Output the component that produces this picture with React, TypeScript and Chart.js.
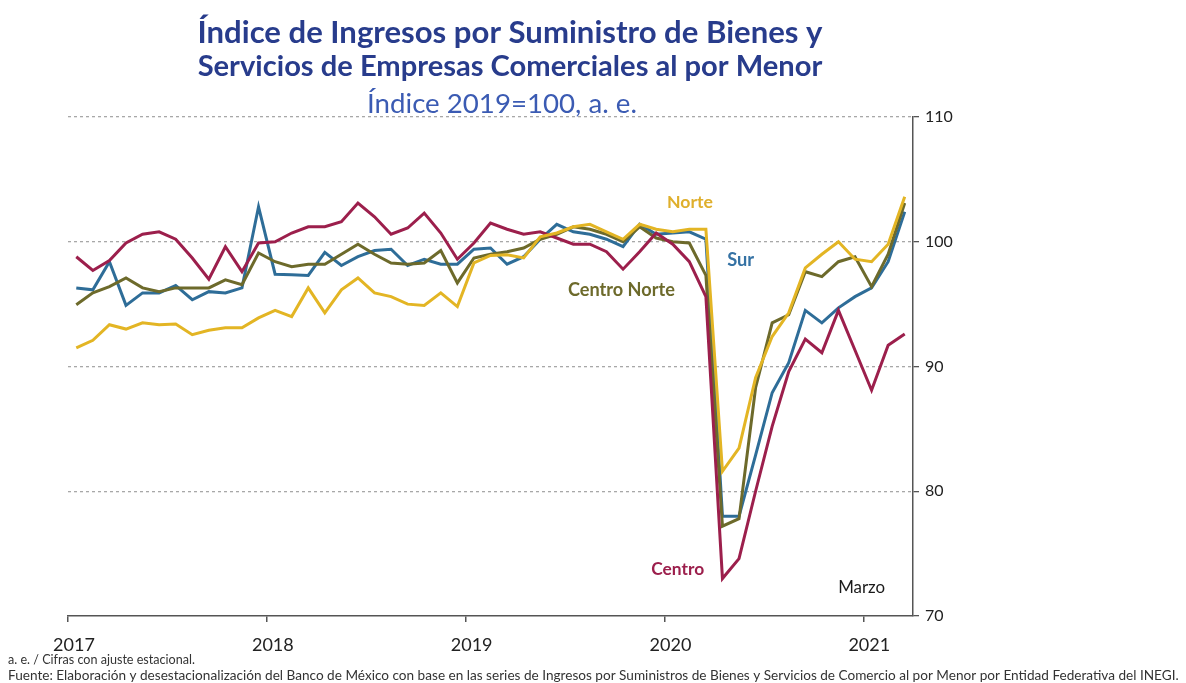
import React, { useEffect, useRef } from "react";
import { Chart, registerables } from "chart.js";

Chart.register(...registerables);

// Months Jan 2017 .. Mar 2021 (51 points)
const months: string[] = [];
["2017", "2018", "2019", "2020", "2021"].forEach((y) => {
  ["ene", "feb", "mar", "abr", "may", "jun", "jul", "ago", "sep", "oct", "nov", "dic"].forEach((m) => {
    if (months.length < 51) months.push(`${m} ${y}`);
  });
});

const yearLabels = ["2017", "2018", "2019", "2020", "2021"];
const yearTickPos = [0, 12, 24, 36, 48];
const yTicks = [70, 80, 90, 100, 110];

const norte = [
  91.5, 92.1, 93.35, 93.0, 93.5, 93.35, 93.4, 92.55, 92.9, 93.1, 93.1, 93.9,
  94.5, 94.0, 96.3, 94.3, 96.15, 97.1, 95.9, 95.6, 95.0, 94.9, 95.9, 94.8,
  98.3, 98.9, 98.96, 98.7, 100.4, 100.7, 101.2, 101.4, 100.8, 100.2, 101.4, 101.0,
  100.8, 101.0, 101.0, 81.6, 83.45, 89.1, 92.4, 94.3, 97.9, 99.0, 100.0, 98.6, 98.4, 99.8, 103.6,
];
const centro = [
  98.8, 97.7, 98.5, 99.9, 100.6, 100.8, 100.2, 98.7, 97.0, 99.6, 97.6, 99.9,
  100.0, 100.7, 101.2, 101.2, 101.6, 103.1, 102.0, 100.6, 101.1, 102.3, 100.7, 98.6,
  99.9, 101.5, 101.0, 100.6, 100.8, 100.3, 99.8, 99.8, 99.2, 97.8, 99.2, 100.7,
  99.8, 98.4, 95.6, 73.0, 74.6, 80.0, 85.2, 89.6, 92.2, 91.1, 94.5, 91.3, 88.1, 91.7, 92.6,
];
const centroNorte = [
  94.95, 95.9, 96.4, 97.1, 96.3, 96.0, 96.3, 96.3, 96.3, 96.95, 96.55, 99.1,
  98.4, 98.0, 98.2, 98.2, 99.0, 99.8, 99.0, 98.3, 98.2, 98.3, 99.3, 96.7,
  98.7, 99.0, 99.2, 99.5, 100.2, 100.6, 101.2, 101.0, 100.6, 100.0, 101.2, 100.3,
  100.0, 99.9, 97.3, 77.2, 77.8, 88.3, 93.5, 94.15, 97.6, 97.2, 98.4, 98.8, 96.4, 99.0, 103.1,
];
const sur = [
  96.3, 96.15, 98.4, 94.9, 95.9, 95.9, 96.5, 95.35, 96.0, 95.9, 96.3, 102.8,
  97.4, 97.35, 97.3, 99.15, 98.1, 98.8, 99.3, 99.4, 98.1, 98.6, 98.2, 98.2,
  99.4, 99.5, 98.2, 98.8, 100.2, 101.4, 100.8, 100.6, 100.2, 99.6, 101.4, 100.6,
  100.7, 100.8, 100.2, 78.0, 78.0, 82.9, 87.9, 90.3, 94.5, 93.5, 94.7, 95.6, 96.3, 98.4, 102.4,
];

const seriesNames = ["Norte", "Centro", "Centro Norte", "Sur"];
const seriesValues = [norte, centro, centroNorte, sur];
const seriesColors = ["#E3B524", "#9C1F4C", "#6D6A2B", "#2E6D98"];

// In-plot labels
const labelTexts = ["Norte", "Sur", "Centro Norte", "Centro", "Marzo"];
const labelX = [37.54, 40.6, 33.4, 36.8, 47.9];
const labelY = [103.2, 98.5, 96.1, 73.7, 72.25];
const labelColors = ["#DFAF2C", "#3572A4", "#6D6A2B", "#9C1F4C", "#1a1a1a"];
const labelWeights = ["bold", "bold", "bold", "bold", "normal"];
const labelWidths = [46, 27, 107, 53, 47];

const titleLines = [
  "Índice de Ingresos por Suministro de Bienes y",
  "Servicios de Empresas Comerciales al por Menor",
];
const subtitle = "Índice 2019=100, a. e.";
const note1 = "a. e. / Cifras con ajuste estacional.";
const note2 =
  "Fuente: Elaboración y desestacionalización del Banco de México con base en las series de Ingresos por Suministros de Bienes y Servicios de Comercio al por Menor por Entidad Federativa del INEGI.";

const FAMILY = "Lato, 'Open Sans', sans-serif";

function fitFont(ctx: CanvasRenderingContext2D, text: string, weight: string, targetW: number) {
  ctx.font = `${weight} 100px ${FAMILY}`;
  const w = ctx.measureText(text).width;
  const size = (100 * targetW) / w;
  ctx.font = `${weight} ${size}px ${FAMILY}`;
}

const textPlugin = {
  id: "textPlugin",
  afterDraw(chart: any) {
    const ctx: CanvasRenderingContext2D = chart.ctx;
    const xs = chart.scales.x;
    const ys = chart.scales.y;
    ctx.save();
    ctx.textBaseline = "middle";
    ctx.textAlign = "center";
    ctx.fillStyle = "#283C8C";
    fitFont(ctx, titleLines[0], "bold", 625);
    ctx.fillText(titleLines[0], 510, 33);
    fitFont(ctx, titleLines[1], "bold", 625);
    ctx.fillText(titleLines[1], 510, 67);
    ctx.fillStyle = "#3B5BB3";
    fitFont(ctx, subtitle, "normal", 270);
    ctx.fillText(subtitle, 502, 104);
    labelTexts.forEach((t, i) => {
      ctx.fillStyle = labelColors[i];
      fitFont(ctx, t, labelWeights[i], labelWidths[i]);
      ctx.fillText(t, xs.getPixelForValue(labelX[i]), ys.getPixelForValue(labelY[i]));
    });
    ctx.textAlign = "left";
    ctx.fillStyle = "#333";
    fitFont(ctx, note1, "normal", 187);
    ctx.fillText(note1, 8, 660);
    fitFont(ctx, note2, "normal", 1172);
    ctx.fillText(note2, 8, 676);
    ctx.restore();
  },
};

export default function App() {
  const ref = useRef<HTMLCanvasElement | null>(null);
  useEffect(() => {
    if (!ref.current) return;
    const datasets = seriesNames.map((name, k) => ({
      label: name,
      data: seriesValues[k].map((v, i) => ({ x: i + 0.5, y: v })),
      borderColor: seriesColors[k],
      backgroundColor: seriesColors[k],
      borderWidth: 3,
      pointRadius: 0,
      tension: 0,
      fill: false,
    }));
    const chart = new Chart(ref.current, {
      type: "line",
      data: { labels: months, datasets },
      options: {
        animation: false,
        responsive: true,
        maintainAspectRatio: false,
        devicePixelRatio: 1,
        layout: { padding: { left: 68, top: 117, right: 1186 - 913 - 60, bottom: 683 - 616 - 40 } },
        plugins: { legend: { display: false }, tooltip: { enabled: false }, title: { display: false } },
        scales: {
          x: {
            type: "linear",
            min: 0,
            max: 51,
            afterBuildTicks: (s: any) => {
              s.ticks = yearTickPos.map((v) => ({ value: v }));
            },
            afterFit: (s: any) => {
              s.height = 40;
            },
            ticks: {
              autoSkip: false,
              maxRotation: 0,
              labelOffset: 6,
              padding: 12,
              color: "#222",
              font: { family: FAMILY, size: 18 },
              callback: (v: any) => {
                const idx = yearTickPos.indexOf(Number(v));
                return idx >= 0 ? yearLabels[idx] : "";
              },
            },
            grid: { display: true, drawOnChartArea: false, drawTicks: true, tickLength: 6, color: "#555", lineWidth: 1.5 },
            border: { display: true, color: "#555", width: 1.5 },
          },
          y: {
            type: "linear",
            position: "right",
            min: 70,
            max: 110,
            afterBuildTicks: (s: any) => {
              s.ticks = yTicks.map((v) => ({ value: v }));
            },
            afterFit: (s: any) => {
              s.width = 60;
            },
            ticks: {
              padding: 6,
              color: "#222",
              font: { family: FAMILY, size: 16 },
            },
            grid: {
              display: true,
              drawOnChartArea: true,
              drawTicks: true,
              tickLength: 6,
              color: (c: any) => (c.tick && c.tick.value === 70 ? "rgba(0,0,0,0)" : "#a8a8a8"),
              tickColor: "#555",
              lineWidth: 1.3,
            },
            border: { display: true, color: "#555", width: 1.5, dash: [3, 3] },
          },
        },
      },
      plugins: [textPlugin],
    });
    return () => chart.destroy();
  }, []);
  return (
    <div style={{ position: "fixed", left: 0, top: 0, width: 1186, height: 683, background: "#fff" }}>
      <canvas ref={ref} />
    </div>
  );
}
